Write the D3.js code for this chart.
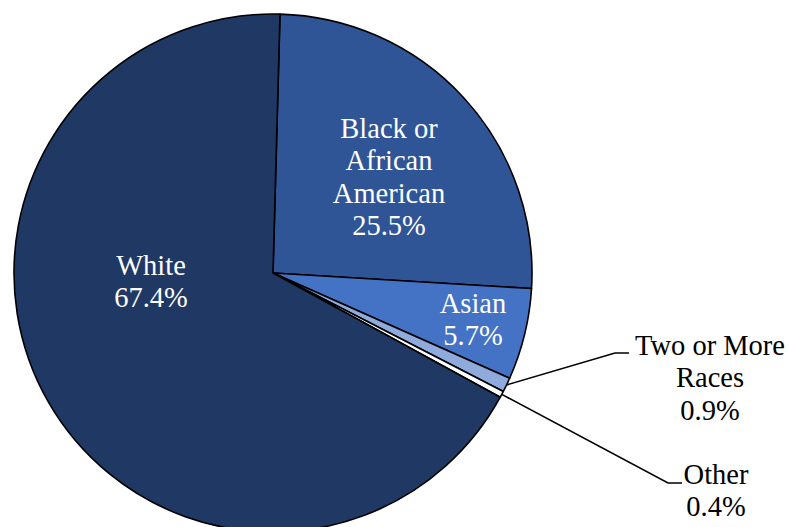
<!DOCTYPE html>
<html>
<head>
<meta charset="utf-8">
<script src="https://cdn.jsdelivr.net/npm/d3@7"></script>
<style>
  html, body { margin: 0; padding: 0; background: #fff; }
  svg { display: block; }
</style>
</head>
<body>
<svg id="chart" width="789" height="527"></svg>
<script>
// Race distribution (percent), clockwise from the top
const categories = ["Black or African American", "Asian", "Two or More Races", "Other", "White"];
const values = [25.5, 5.7, 0.9, 0.4, 67.4];
const labelLines = [
  ["Black or", "African", "American", "25.5%"],
  ["Asian", "5.7%"],
  ["Two or More", "Races", "0.9%"],
  ["Other", "0.4%"],
  ["White", "67.4%"]
];
const colors = ["#2F5597", "#4472C4", "#8FAADC", "#FFFFFF", "#203864"];

const svg = d3.select("#chart");
const cx = 273, cy = 273, radius = 259;
const g = svg.append("g").attr("transform", `translate(${cx},${cy})`);

const data = categories.map((c, i) => ({ name: c, value: values[i], lines: labelLines[i], color: colors[i] }));

const pie = d3.pie()
  .value(d => d.value)
  .sort(null)
  .startAngle(0.027)
  .endAngle(0.027 + 2 * Math.PI);

const arcs = pie(data);
const arc = d3.arc().innerRadius(0).outerRadius(radius);
const edgeArc = d3.arc().innerRadius(radius).outerRadius(radius);

g.selectAll("path.slice")
  .data(arcs)
  .join("path")
  .attr("class", "slice")
  .attr("d", arc)
  .attr("fill", d => d.data.color)
  .attr("stroke", "#000")
  .attr("stroke-width", 1.6)
  .attr("stroke-linejoin", "round");

// Label placement (relative to pie centre): anchor of text block, line colour, leader elbow
const layout = {
  "Black or African American": { x: 116, y: -145, fill: "#fff" },
  "Asian": { x: 200, y: 30, fill: "#fff" },
  "Two or More Races": { x: 437, y: 72, fill: "#000", elbow: [342, 80], end: [356, 80] },
  "Other": { x: 443, y: 201, fill: "#000", elbow: [395, 210], end: [409, 210] },
  "White": { x: -122, y: -8, fill: "#fff" }
};
const lineH = 32.5;

arcs.forEach(a => {
  const L = layout[a.data.name];
  if (L.elbow) {
    const p = edgeArc.centroid(a);
    g.append("polyline")
      .attr("points", [p, L.elbow, L.end].map(q => q.join(",")).join(" "))
      .attr("fill", "none")
      .attr("stroke", "#000")
      .attr("stroke-width", 1.6);
  }
  const t = g.append("text")
    .attr("text-anchor", "middle")
    .attr("font-family", "'Liberation Serif', 'Times New Roman', 'DejaVu Serif', serif")
    .attr("font-size", 28.5)
    .attr("fill", L.fill);
  a.data.lines.forEach((ln, i) => {
    t.append("tspan")
      .attr("x", L.x)
      .attr("y", L.y + i * lineH)
      .attr("dominant-baseline", "central")
      .text(ln);
  });
});
</script>
</body>
</html>
